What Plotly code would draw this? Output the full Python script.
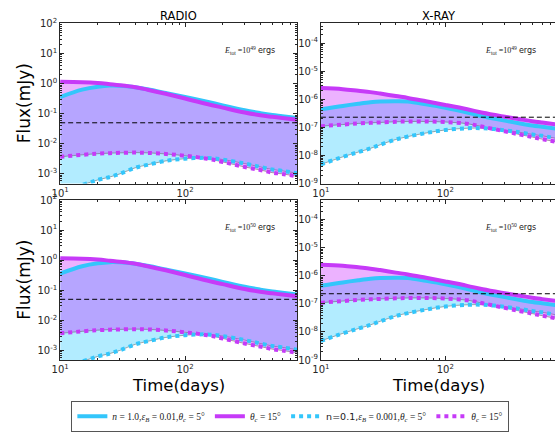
import plotly.graph_objects as go

# ---------------- data ----------------
days = [10, 15, 20, 25, 30, 40, 50, 70, 100, 150, 200, 300, 400, 500, 600, 790]

# RADIO (mJy)
radio_n1_tc5 = [0.36, 0.63, 0.79, 0.86, 0.85, 0.76, 0.65, 0.49, 0.36, 0.25, 0.19, 0.13, 0.105, 0.091, 0.083, 0.072]
radio_n1_tc15 = [1.15, 1.12, 1.05, 0.96, 0.89, 0.76, 0.63, 0.46, 0.32, 0.21, 0.16, 0.11, 0.089, 0.079, 0.072, 0.063]
radio_n01_tc5 = [2.5e-4, 4.3e-4, 6.3e-4, 7.9e-4, 1.0e-3, 1.6e-3, 2.0e-3, 2.7e-3, 3.2e-3, 3.4e-3, 3.0e-3, 2.2e-3, 1.7e-3, 1.4e-3, 1.26e-3, 1.05e-3]
radio_n01_tc15 = [3.7e-3, 4.3e-3, 4.7e-3, 4.9e-3, 5.0e-3, 5.1e-3, 5.0e-3, 4.6e-3, 4.0e-3, 3.2e-3, 2.5e-3, 1.7e-3, 1.35e-3, 1.1e-3, 1.0e-3, 8.3e-4]
radio_limit = 0.05

# X-RAY (mJy)
xray_n1_tc5 = [4.4e-7, 5.8e-7, 6.9e-7, 7.8e-7, 8.3e-7, 8.5e-7, 8.3e-7, 6.6e-7, 5.0e-7, 3.4e-7, 2.5e-7, 1.74e-7, 1.38e-7, 1.17e-7, 1.05e-7, 8.9e-8]
xray_n1_tc15 = [2.5e-6, 2.3e-6, 2.0e-6, 1.8e-6, 1.6e-6, 1.3e-6, 1.12e-6, 8.5e-7, 6.3e-7, 4.4e-7, 3.3e-7, 2.4e-7, 1.95e-7, 1.66e-7, 1.48e-7, 1.26e-7]
xray_n01_tc5 = [4.8e-9, 8.9e-9, 1.32e-8, 1.78e-8, 2.4e-8, 3.7e-8, 4.7e-8, 6.3e-8, 8.1e-8, 9.3e-8, 9.3e-8, 7.9e-8, 6.6e-8, 5.6e-8, 5.0e-8, 4.0e-8]
xray_n01_tc15 = [1.1e-7, 1.26e-7, 1.38e-7, 1.45e-7, 1.5e-7, 1.58e-7, 1.62e-7, 1.62e-7, 1.55e-7, 1.35e-7, 1.05e-7, 7.2e-8, 5.5e-8, 4.5e-8, 3.8e-8, 3.0e-8]
xray_limit = 2.3e-7

column_titles = ["RADIO", "X-RAY"]
energy_labels = ["49", "50"]
legend_names = [
    "<i>n</i> = 1.0,<i>ε</i><sub><i>B</i></sub> = 0.01,<i>θ</i><sub><i>c</i></sub> = 5°",
    "<i>θ</i><sub><i>c</i></sub> = 15°",
    "<span style='font-family:DejaVu Sans'>n=0.1,</span><i>ε</i><sub><i>B</i></sub> = 0.001,<i>θ</i><sub><i>c</i></sub> = 5°",
    "<i>θ</i><sub><i>c</i></sub> = 15°",
]

x_ticks = [10, 100, 1000]
x_ticktext = ["10<sup>1</sup>", "10<sup>2</sup>", "10<sup>3</sup>"]
radio_ticks = [1e-3, 1e-2, 1e-1, 1, 10, 100]
radio_ticktext = ["10<sup>-3</sup>", "10<sup>-2</sup>", "10<sup>-1</sup>", "10<sup>0</sup>", "10<sup>1</sup>", "10<sup>2</sup>"]
xray_ticks = [1e-9, 1e-8, 1e-7, 1e-6, 1e-5, 1e-4]
xray_ticktext = ["10<sup>-9</sup>", "10<sup>-8</sup>", "10<sup>-7</sup>", "10<sup>-6</sup>", "10<sup>-5</sup>", "10<sup>-4</sup>"]

# ---------------- style ----------------
W, H = 555, 432
CYAN = "#33c6fb"
MAG = "#c63af8"
CYAN_FILL = "rgba(0,191,255,0.30)"
MAG_FILL = "rgba(191,0,255,0.30)"
EDGE = "rgba(90,90,90,0.75)"
AX = "#262626"


def px(x):
    return x / W


def py(y):
    return 1 - y / H


def minor_vals(lo, hi):
    vals = []
    for e in range(lo, hi):
        for m in range(2, 10):
            vals.append(m * 10.0 ** e)
    return vals


fig = go.Figure()

panels = [
    ("", True),
    ("2", False),
    ("3", True),
    ("4", False),
]

for suffix, is_radio in panels:
    xa, ya = "x" + suffix, "y" + suffix
    if is_radio:
        c5, c15, d5, d15, lim = radio_n1_tc5, radio_n1_tc15, radio_n01_tc5, radio_n01_tc15, radio_limit
    else:
        c5, c15, d5, d15, lim = xray_n1_tc5, xray_n1_tc15, xray_n01_tc5, xray_n01_tc15, xray_limit
    # fills
    fig.add_trace(go.Scatter(x=days, y=d5, mode="lines", line=dict(color=EDGE, width=0.7, shape="spline"),
                             showlegend=False, hoverinfo="skip", xaxis=xa, yaxis=ya))
    fig.add_trace(go.Scatter(x=days, y=c5, mode="lines", line=dict(color=EDGE, width=0.7, shape="spline"),
                             fill="tonexty", fillcolor=CYAN_FILL, showlegend=False, hoverinfo="skip",
                             xaxis=xa, yaxis=ya))
    fig.add_trace(go.Scatter(x=days, y=d15, mode="lines", line=dict(color=EDGE, width=0.7, shape="spline"),
                             showlegend=False, hoverinfo="skip", xaxis=xa, yaxis=ya))
    fig.add_trace(go.Scatter(x=days, y=c15, mode="lines", line=dict(color=EDGE, width=0.7, shape="spline"),
                             fill="tonexty", fillcolor=MAG_FILL, showlegend=False, hoverinfo="skip",
                             xaxis=xa, yaxis=ya))
    # thick lines
    show = suffix == ""
    fig.add_trace(go.Scatter(x=days, y=c5, mode="lines", name=legend_names[0],
                             line=dict(color=CYAN, width=4, shape="spline"),
                             showlegend=show, xaxis=xa, yaxis=ya))
    fig.add_trace(go.Scatter(x=days, y=c15, mode="lines", name=legend_names[1],
                             line=dict(color=MAG, width=4, shape="spline"),
                             showlegend=show, xaxis=xa, yaxis=ya))
    fig.add_trace(go.Scatter(x=days, y=d5, mode="lines", name=legend_names[2],
                             line=dict(color=CYAN, width=4, dash="dot", shape="spline"),
                             showlegend=show, xaxis=xa, yaxis=ya))
    fig.add_trace(go.Scatter(x=days, y=d15, mode="lines", name=legend_names[3],
                             line=dict(color=MAG, width=4, dash="dot", shape="spline"),
                             showlegend=show, xaxis=xa, yaxis=ya))
    fig.add_shape(type="line", xref=xa + " domain", x0=0, x1=1, yref=ya, y0=lim, y1=lim,
                  line=dict(color="black", width=1, dash="5px,3px"))

# axes
LEFT_X = (52, 293)
RIGHT_X = (317, 555)
TOP_Y = (17, 182)
BOT_Y = (199, 364)

tickfont = dict(family="DejaVu Sans", size=10, color=AX)


def xaxis(dom, rng, anchor):
    return dict(type="log", domain=[px(dom[0]), px(dom[1])], range=rng, anchor=anchor,
                showline=True, linecolor=AX, linewidth=1, mirror="ticks",
                ticks="inside", ticklen=4, tickcolor=AX, tickwidth=1,
                tickmode="array", tickvals=x_ticks, ticktext=x_ticktext,
                minor=dict(ticks="inside", ticklen=2, tickcolor=AX, tickmode="array",
                           tickvals=minor_vals(1, 3)),
                showgrid=False, zeroline=False, tickfont=tickfont)


def yaxis(dom, rng, anchor, ticks, text, lo, hi, mirror):
    return dict(type="log", domain=[py(dom[1]), py(dom[0])], range=rng, anchor=anchor,
                showline=True, linecolor=AX, linewidth=1, mirror="ticks" if mirror else False,
                ticks="inside", ticklen=4, tickcolor=AX, tickwidth=1,
                tickmode="array", tickvals=ticks, ticktext=text,
                minor=dict(ticks="inside", ticklen=2, tickcolor=AX, tickmode="array",
                           tickvals=minor_vals(lo, hi)),
                showgrid=False, zeroline=False, tickfont=tickfont)


fig.update_layout(
    xaxis=xaxis(LEFT_X, [1, 2.898], "y"),
    yaxis=yaxis(TOP_Y, [-3.32, 2], "x", radio_ticks, radio_ticktext, -4, 2, True),
    xaxis2=xaxis(RIGHT_X, [1, 2.881], "y2"),
    yaxis2=yaxis(TOP_Y, [-9, -3.3], "x2", xray_ticks, xray_ticktext, -9, -3, False),
    xaxis3=xaxis(LEFT_X, [1, 2.898], "y3"),
    yaxis3=yaxis(BOT_Y, [-3.32, 2], "x3", radio_ticks, radio_ticktext, -4, 2, True),
    xaxis4=xaxis(RIGHT_X, [1, 2.881], "y4"),
    yaxis4=yaxis(BOT_Y, [-9, -3.3], "x4", xray_ticks, xray_ticktext, -9, -3, False),
)

ann = []
for title, xc in zip(column_titles, [172, 437]):
    ann.append(dict(text=title, x=px(xc), y=py(9), xref="paper", yref="paper", showarrow=False,
                    xanchor="center", yanchor="middle", font=dict(family="DejaVu Sans", size=11.5, color="black")))
for yc in [(TOP_Y[0] + TOP_Y[1]) / 2, (BOT_Y[0] + BOT_Y[1]) / 2]:
    ann.append(dict(text="Flux(mJy)", x=px(15), y=py(yc), xref="paper", yref="paper", showarrow=False,
                    textangle=-90, xanchor="center", yanchor="middle",
                    font=dict(family="DejaVu Sans", size=17, color="black")))
for xc in [172, 437]:
    ann.append(dict(text="Time(days)", x=px(xc), y=py(390), xref="paper", yref="paper", showarrow=False,
                    xanchor="center", yanchor="middle", font=dict(family="DejaVu Sans", size=16.5, color="black")))
for ei, yc in zip(energy_labels, [45, 227]):
    for xc in [217, 482]:
        ann.append(dict(
            text="<i>E</i><sub>tot</sub> =10<sup>" + ei + "</sup> <span style='font-family:DejaVu Sans'>ergs</span>",
            x=px(xc), y=py(yc), xref="paper", yref="paper", showarrow=False,
            xanchor="left", yanchor="middle",
            font=dict(family="Liberation Serif", size=8, color="#222")))

fig.update_layout(
    width=W, height=H,
    margin=dict(l=0, r=0, t=0, b=0),
    paper_bgcolor="white", plot_bgcolor="white",
    annotations=ann,
    showlegend=True,
    legend=dict(orientation="h", x=px(286), xanchor="center", y=py(406), yanchor="top",
                traceorder="normal",
                bordercolor="#555", borderwidth=1, bgcolor="white",
                font=dict(family="Liberation Serif", size=9.5, color="#222"),
                itemwidth=30, tracegroupgap=0),
)

fig.write_html("out.html")
